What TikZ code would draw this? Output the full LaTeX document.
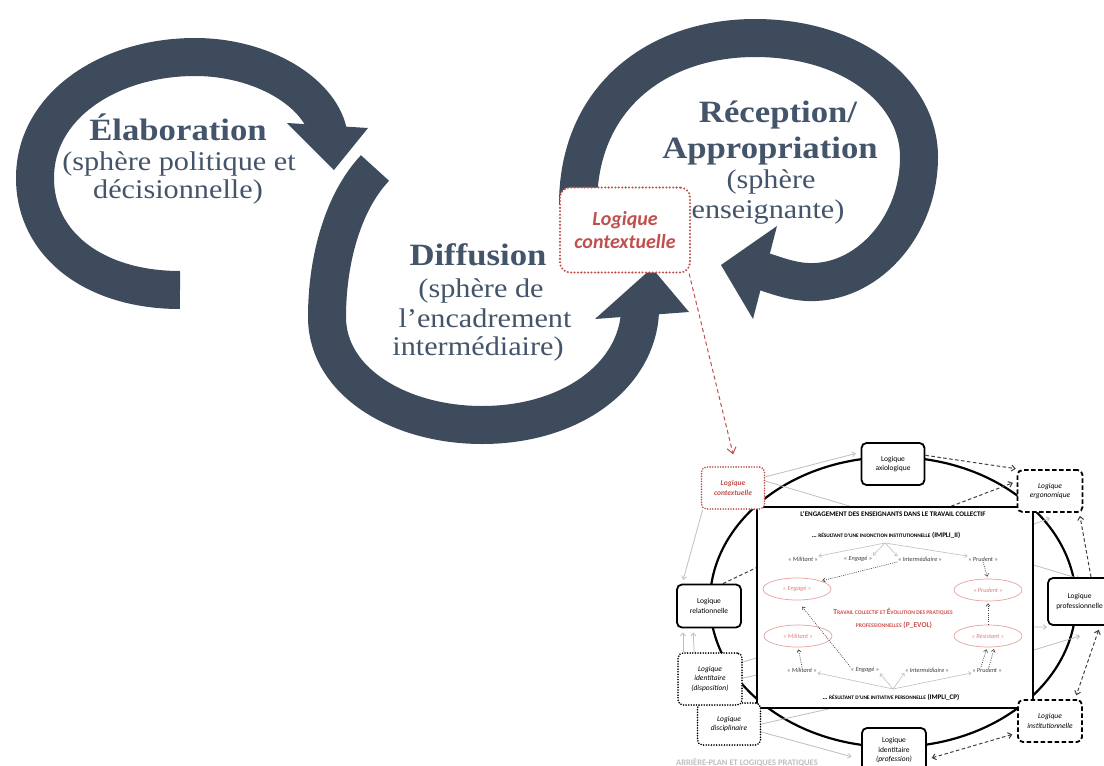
\documentclass[tikz,border=0pt]{standalone}
\usepackage{fontspec}
\setmainfont{Liberation Serif}[FakeStretch=1.12]
\newfontfamily\smallfont{Carlito}
\usetikzlibrary{arrows.meta,shapes.geometric}
\definecolor{slate}{HTML}{3E4B5C}
\definecolor{slatetext}{HTML}{44546A}
\definecolor{ctxred}{HTML}{C0504D}
\definecolor{midred}{HTML}{D0504C}
\definecolor{pinkline}{HTML}{E6A3A1}
\definecolor{pinktext}{HTML}{E07F7C}
\definecolor{lgrey}{HTML}{BFBFBF}
\definecolor{dgrey}{HTML}{404040}
\pgfdeclarelayer{bg}
\pgfdeclarelayer{bottom}
\pgfsetlayers{bottom,bg,main}
\begin{document}
\begin{tikzpicture}[x=1pt,y=-1pt,
  bigarrow/.style={draw=slate, line width=38pt, line cap=butt},
  ttl/.style={font=\fontsize{31}{36}\selectfont\bfseries, text=slatetext, inner sep=0pt, anchor=base},
  sub/.style={font=\fontsize{27}{30}\selectfont, text=slatetext, inner sep=0pt, anchor=base},
  ctxbox/.style={draw=ctxred, line width=2.3pt, dash pattern=on 0pt off 3.4pt, line cap=round, rounded corners=10pt, fill=white, minimum width=130pt, minimum height=85pt, align=center, text=ctxred, font=\smallfont\bfseries\itshape\fontsize{20}{23}\selectfont},
  lbox/.style={draw=black, rounded corners=5pt, line width=1.8pt, fill=white, minimum width=63pt, minimum height=42pt, align=center, inner sep=1pt, font=\smallfont\fontsize{7.5}{9.5}\selectfont},
  dashbox/.style={lbox, dash pattern=on 4.5pt off 2.5pt},
  dotbox/.style={lbox, dash pattern=on 0pt off 2.6pt, line cap=round},
  greyarr/.style={draw=lgrey, line width=0.8pt, -{Straight Barb[length=3pt,width=5pt]}},
  greyline/.style={draw=lgrey, line width=0.8pt},
  blkdash/.style={draw=black!75, line width=1pt, dash pattern=on 3.5pt off 2.5pt},
  blkdasharr/.style={blkdash, -{Straight Barb[length=3.5pt,width=6pt]}},
  blkdashdbl/.style={blkdash, {Straight Barb[length=3.5pt,width=6pt]}-{Straight Barb[length=3.5pt,width=6pt]}},
  item/.style={font=\smallfont\itshape\fontsize{6.3}{7}\selectfont, text=dgrey, inner sep=0.5pt},
  pell/.style={draw=pinkline, ellipse, line width=0.7pt, minimum width=68pt, minimum height=22pt, font=\smallfont\itshape\fontsize{6.3}{7}\selectfont, text=pinktext, inner sep=0pt},
  smallarr/.style={draw=lgrey, line width=0.6pt, -{Straight Barb[length=2.5pt,width=4pt]}},
  dotarr/.style={draw=dgrey, line width=0.6pt, dash pattern=on 1pt off 1.2pt, -{Straight Barb[length=2.5pt,width=4pt]}},
  heading/.style={font=\smallfont\bfseries\fontsize{7}{8}\selectfont, inner sep=0pt}
]
\useasboundingbox (0,0) rectangle (1104,766);
\begin{pgfonlayer}{bottom}
\fill[white] (0,0) rectangle (1104,766);
\end{pgfonlayer}

% ---------- big circular arrows ----------
\draw[bigarrow] (180,290) .. controls (95,290) and (35,245) .. (35,178) .. controls (35,105) and (110,57) .. (195,57) .. controls (262,57) and (319,92) .. (328,132);
\fill[slate] (287,123) -- (368,128) -- (334,170) -- cycle;

\draw[bigarrow] (375,168) .. controls (342,203) and (327,262) .. (327,317) .. controls (327,382) and (400,425) .. (482,425) .. controls (572,425) and (637,375) .. (640,312);
\fill[slate] (595,319) -- (689,312) -- (652,268) -- cycle;

\draw[bigarrow] (578,205) .. controls (578,95) and (660,38) .. (755,38) .. controls (852,38) and (919,92) .. (919,157) .. controls (919,225) and (870,280) .. (815,282) .. controls (795,283) and (778,276) .. (762,271);
\fill[slate] (777,226) -- (753,319) -- (721,265) -- cycle;

% ---------- big texts ----------
\node[ttl] (elab) at (178,140) {Élaboration};
\node[sub] (elab1) at (179,170) {(sphère politique et};
\node[sub] (elab2) at (178,198) {décisionnelle)};

\node[ttl] (diff) at (478,265) {Diffusion};
\node[sub] (diff1) at (481,297) {(sphère de};
\node[sub] (diff2) at (485,327) {l’encadrement};
\node[sub] (diff3) at (478,355) {intermédiaire)};

\node[ttl] (recep) at (778,122) {Réception/};
\node[ttl] (appro) at (770,158) {Appropriation};
\node[sub] (recep1) at (771,188) {(sphère};
\node[sub] (recep2) at (768,218) {enseignante)};

\node[ctxbox] (ctx) at (625,230) {Logique\\contextuelle};

% ---------- lower right diagram ----------
\node[draw=black, line width=1.6pt, fill=white, minimum width=276pt, minimum height=201pt, inner sep=0pt] (rect) at (895,607.5) {};

\node[lbox] (axio) at (893,464) {Logique\\axiologique};
\node[dashbox, font=\smallfont\itshape\fontsize{7.5}{9.5}\selectfont, minimum width=65pt] (ergo) at (1050,491) {Logique\\ergonomique};
\node[lbox, minimum width=72pt, minimum height=47pt] (prof) at (1084,601.5) {};
\node[font=\smallfont\fontsize{7.5}{9.5}\selectfont, align=center, inner sep=0pt, anchor=east] (proftext) at (1103,601.5) {Logique\\professionnelle};
\node[dashbox, font=\smallfont\itshape\fontsize{7.5}{9.5}\selectfont, minimum width=64pt] (insti) at (1050,721) {Logique\\institutionnelle};
\node[lbox, minimum width=64pt, minimum height=45pt] (identprof) at (894,750.5) {Logique\\identitaire\\\textit{(profession)}};
\node[dotbox, font=\smallfont\itshape\fontsize{7.5}{9.5}\selectfont] (discip) at (729,724) {Logique\\disciplinaire};
\node[dotbox, font=\smallfont\itshape\fontsize{7.5}{9.5}\selectfont, minimum width=64pt, minimum height=52pt] (identdisp) at (710,679) {Logique\\identitaire\\(disposition)};
\node[lbox, minimum width=64pt, minimum height=43pt] (relat) at (709,606) {Logique\\relationnelle};
\node[dotbox, draw=ctxred, text=ctxred, font=\smallfont\bfseries\itshape\fontsize{7.5}{9.5}\selectfont] (ctx2) at (733,488) {Logique\\contextuelle};

\coordinate (ell1) at (1050,518);
\coordinate (ell2) at (1080,579);
\coordinate (ell3) at (1047,627);
\coordinate (ell4) at (1080,636);

\begin{pgfonlayer}{bg}
\draw[line width=2.2pt] (893,602) ellipse [x radius=183, y radius=145];
\draw[greyarr, shorten >=5pt] (ctx2.19) -- (axio.160);
\draw[greyline] (ctx2.12) -- (rect.114);
\draw[greyarr, shorten >=4pt] ([xshift=2pt]ctx2.south west) -- ([xshift=6pt]relat.north west);
\draw[blkdasharr, shorten >=3pt] (axio.15) -- (ergo.145);
\draw[blkdasharr, shorten >=4pt] (rect.61) -- (ergo.164);
\draw[blkdasharr, shorten >=3pt] ([xshift=7pt]prof.north) -- ([xshift=-4pt]ergo.south east);
\draw[greyarr] (rect.31.5) -- (ell1);
\draw[greyarr] (rect.17) -- (ell2);
\draw[greyarr] (rect.-8.4) -- (ell3);
\draw[greyarr] (rect.-17.1) -- (ell4);
\draw[blkdashdbl, shorten <=4pt, shorten >=4pt] ([xshift=16pt]prof.south) -- ([xshift=25pt]insti.north);
\draw[blkdashdbl, shorten <=5pt, shorten >=5pt] (identprof.-15) -- (insti.200);
\draw[greyarr, shorten >=4pt] ([xshift=-27pt]identdisp.north) -- ([xshift=-26pt]relat.south);
\draw[greyarr, shorten >=4pt] (discip.north west) -- ([xshift=-16pt]relat.south);
\draw[greyline] ([yshift=17pt]identdisp.east) -- (rect.200);
\draw[greyline] ([yshift=1pt]identdisp.east) -- (rect.206.4);
\draw[greyline] (discip.east) -- (rect.237);
\draw[greyarr, shorten >=10pt] ([yshift=-8pt]discip.east) -- (identprof.195);
\draw[blkdash] ([xshift=14pt]relat.north) -- (rect.164.8);
\end{pgfonlayer}

% inside the rectangle
\node[heading] (title) at (893,514) {L’ENGAGEMENT DES ENSEIGNANTS DANS LE TRAVAIL COLLECTIF};
\node[heading] (inj) at (886,535) {… {\fontsize{5.3}{6}\selectfont RÉSULTANT D’UNE INJONCTION INSTITUTIONNELLE} (IMPLI\_II)};
\node[heading] (ini) at (891,697) {… {\fontsize{5.3}{6}\selectfont RÉSULTANT D’UNE INITIATIVE PERSONNELLE} (IMPLI\_CP)};

\node[item] (m1) at (803,559) {« Militant »};
\node[item] (e1) at (858,559) {« Engagé »};
\node[item] (i1) at (920,559) {« Intermédiaire »};
\node[item] (p1) at (983,559) {« Prudent »};
\node[item] (m2) at (802,670) {« Militant »};
\node[item] (e2) at (865,670) {« Engagé »};
\node[item] (i2) at (927,670) {« Intermédiaire »};
\node[item] (p2) at (987,670) {« Prudent »};

\node[pell] (ee) at (797,589) {« Engagé »};
\node[pell] (ep) at (988,590) {« Prudent »};
\node[pell] (em) at (798,636) {« Militant »};
\node[pell] (er) at (988,636) {« Résistant »};

\node[font=\smallfont\bfseries\fontsize{7.5}{8}\selectfont, text=midred, inner sep=0pt] (tc1) at (893,612) {T{\fontsize{5.6}{6}\selectfont RAVAIL COLLECTIF ET }É{\fontsize{5.6}{6}\selectfont VOLUTION DES PRATIQUES}};
\node[font=\smallfont\bfseries\fontsize{7.5}{8}\selectfont, text=midred, inner sep=0pt] (tc2) at (894,625) {{\fontsize{5.6}{6}\selectfont PROFESSIONNELLES} (P\_EVOL)};

\coordinate (r1src) at (885,543);
\coordinate (r2src) at (893,689);
\draw[smallarr] (r1src) -- (m1.north east);
\draw[smallarr] (r1src) -- (e1.north east);
\draw[smallarr] (r1src) -- (i1.north west);
\draw[smallarr] (r1src) -- (p1.north west);
\draw[smallarr] (r2src) -- (m2.south east);
\draw[smallarr] (r2src) -- (e2.south east);
\draw[smallarr] (r2src) -- (i2.south west);
\draw[smallarr] (r2src) -- (p2.south west);

\draw[dotarr, shorten >=1pt] (i1.south west) -- (ee.north east);
\draw[dotarr, shorten >=2pt] (p1.south) -- (ep.north);
\draw[dotarr, shorten >=2pt] (m2.north) -- (em.south);
\draw[dotarr, shorten >=8pt] (e2.north west) -- (ee.south);
\draw[dotarr, shorten >=2pt] ([xshift=-6pt]p2.north) -- (er.-95);
\draw[dotarr, shorten >=2pt] ([xshift=2pt]p2.north) -- (er.-60);
\draw[dotarr, shorten >=2pt] (er.north) -- (ep.south);

% red dashed connector from big box to small box
\draw[draw=ctxred, line width=1pt, dash pattern=on 4pt off 3pt, -{Straight Barb[length=6pt,width=9pt]}, shorten >=12pt] ([xshift=-2pt]ctx.south east) -- ([xshift=3pt]ctx2.north);

\node[anchor=base west, inner sep=0pt, text=lgrey, font=\smallfont\bfseries\fontsize{8.5}{10}\selectfont] (arriere) at (676,765) {ARRIÈRE-PLAN ET LOGIQUES PRATIQUES};
\end{tikzpicture}
\end{document}
